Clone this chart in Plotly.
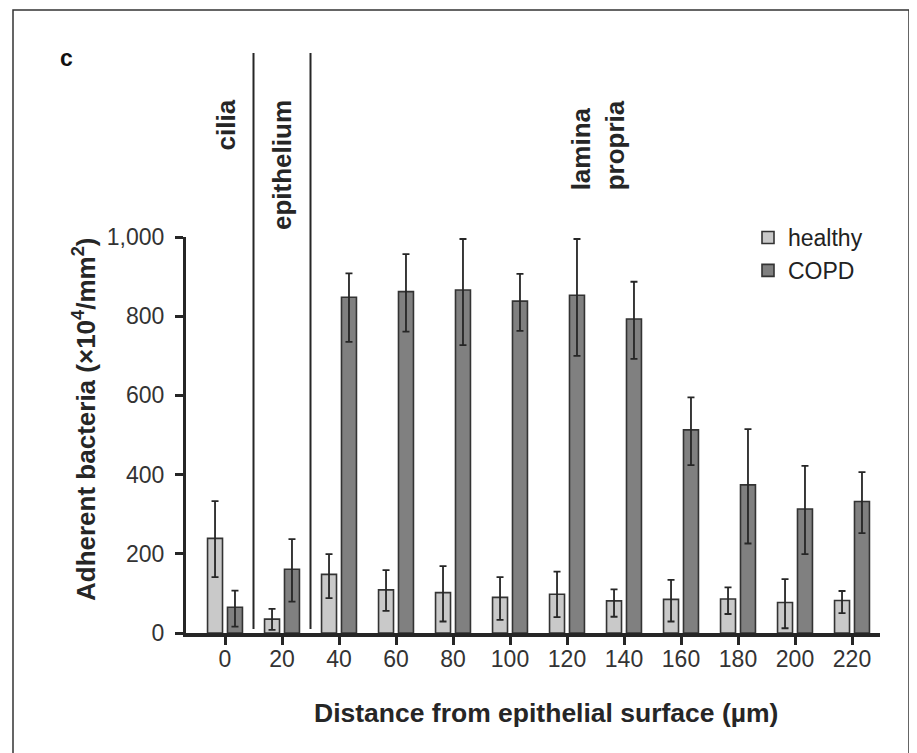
import plotly.graph_objects as go

# ---- data ----
distances = ["0", "20", "40", "60", "80", "100", "120", "140", "160", "180", "200", "220"]

healthy_mean = [239, 35, 148, 109, 102, 90, 98, 81, 85, 86, 77, 82]
healthy_err_up = [94, 26, 51, 50, 67, 51, 57, 29, 49, 29, 59, 24]
healthy_err_down = [98, 27, 60, 53, 73, 57, 58, 40, 56, 38, 65, 32]

copd_mean = [65, 161, 848, 862, 866, 838, 853, 793, 513, 374, 313, 332]
copd_err_up = [42, 76, 60, 95, 129, 69, 142, 94, 82, 141, 109, 74]
copd_err_down = [49, 82, 113, 101, 139, 75, 153, 101, 89, 148, 114, 80]

y_ticks = [0, 200, 400, 600, 800, 1000]
region_labels = ["cilia", "epithelium", "lamina<br>propria"]
region_positions = [0, 1, 6.55]   # category-index positions of the labels
separators = [0.5, 1.5]           # boundaries between regions (category index)

# ---- layout geometry (page pixel coordinates; page has an 8px body margin) ----
OFF = 8
W, H = 917 - OFF, 753 - OFF
L, R, T, B = 186, 880, 237, 633   # plot area in page pixels

def px(x):
    return (x - L) / (R - L)

def py(y):
    return (B - y) / (B - T)

FONT = "Liberation Sans, Arial, Helvetica, sans-serif"
DARK = "#262626"

idx = list(range(len(distances)))

fig = go.Figure()
fig.add_trace(go.Bar(
    name="healthy", x=idx, y=healthy_mean,
    marker=dict(color="#c9c9c9", line=dict(color="#333333", width=1.6)),
    error_y=dict(type="data", symmetric=False, array=healthy_err_up,
                 arrayminus=healthy_err_down, color=DARK, thickness=1.8, width=3.5),
))
fig.add_trace(go.Bar(
    name="COPD", x=idx, y=copd_mean,
    marker=dict(color="#808080", line=dict(color="#333333", width=1.6)),
    error_y=dict(type="data", symmetric=False, array=copd_err_up,
                 arrayminus=copd_err_down, color=DARK, thickness=1.8, width=3.5),
))

shapes = []
for s in separators:
    shapes.append(dict(type="line", xref="x", yref="paper", x0=s, x1=s,
                       y0=py(629), y1=py(53), line=dict(color=DARK, width=2)))
# outer frame
shapes.append(dict(type="rect", xref="paper", yref="paper",
                   x0=px(13), x1=px(909), y0=py(765), y1=py(10),
                   line=dict(color="#333333", width=1.5), fillcolor="rgba(0,0,0,0)"))

annotations = []
for lab, pos in zip(region_labels, region_positions):
    annotations.append(dict(text=lab, x=pos, xref="x", y=py(98), yref="paper",
                            textangle=-90, xanchor="center", yanchor="top",
                            align="left", showarrow=False,
                            font=dict(family=FONT, size=26, color=DARK, weight="bold")))
annotations.append(dict(text="c", x=px(66), y=py(58), xref="paper", yref="paper",
                        showarrow=False, xanchor="center", yanchor="middle",
                        font=dict(family=FONT, size=23, color="#111111", weight="bold")))
annotations.append(dict(text="Adherent bacteria (×10<sup>4</sup>/mm<sup>2</sup>)",
                        x=px(84), y=py(420), xref="paper", yref="paper",
                        textangle=-90, showarrow=False, xanchor="center", yanchor="middle",
                        font=dict(family=FONT, size=26, color=DARK, weight="bold")))
annotations.append(dict(text="Distance from epithelial surface (µm)",
                        x=px(546), y=py(713), xref="paper", yref="paper",
                        showarrow=False, xanchor="center", yanchor="middle",
                        font=dict(family=FONT, size=26.5, color=DARK, weight="bold")))

fig.update_layout(
    width=W, height=H,
    margin=dict(l=L - OFF, r=W - (R - OFF), t=T - OFF, b=H - (B - OFF), pad=0),
    paper_bgcolor="white", plot_bgcolor="white",
    barmode="group", bargap=0.30, bargroupgap=0.25,
    font=dict(family=FONT, size=23, color="#333333"),
    showlegend=True,
    legend=dict(x=px(748), y=py(216), xanchor="left", yanchor="top",
                font=dict(family=FONT, size=23, color="#222222"),
                bgcolor="rgba(0,0,0,0)", borderwidth=0, tracegroupgap=0),
    shapes=shapes, annotations=annotations,
)
fig.update_xaxes(
    range=[(L - 225) / 57.0, (R - 225) / 57.0],
    tickvals=idx, ticktext=distances,
    showline=True, linecolor=DARK, linewidth=4,
    ticks="outside", ticklen=8, tickwidth=3, tickcolor=DARK,
    showgrid=False, zeroline=False, ticklabelstandoff=-6,
    tickfont=dict(family=FONT, size=23, color="#333333"),
)
fig.update_yaxes(
    range=[0, 1000], tickvals=y_ticks, tickformat=",d",
    showline=True, linecolor=DARK, linewidth=3,
    ticks="outside", ticklen=8, tickwidth=3, tickcolor=DARK,
    showgrid=False, zeroline=False, ticklabelstandoff=6,
    tickfont=dict(family=FONT, size=23, color="#333333"),
)

fig.write_html("out.html")
